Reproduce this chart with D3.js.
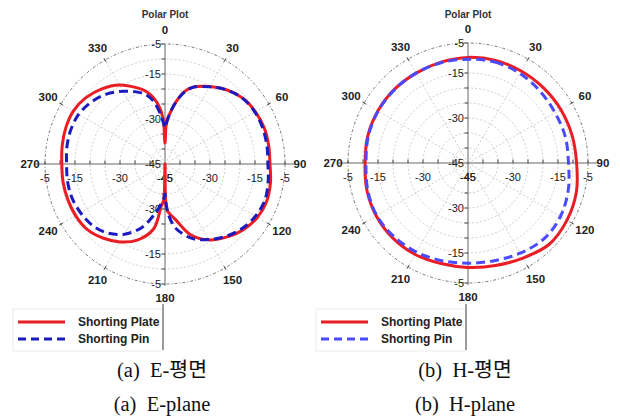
<!DOCTYPE html>
<html><head><meta charset="utf-8">
<script src="https://cdn.jsdelivr.net/npm/d3@7"></script>
<style>
html,body{margin:0;padding:0;background:#fff;}
svg{display:block;}
</style></head>
<body>
<svg id="chart" width="620" height="418"></svg>
<script>
// ---------- data ----------
const angleLabels = [0,30,60,90,120,150,180,210,240,270,300,330];
const radialTicks = [-5,-15,-30,-45];
const ringLevels = [-40,-35,-30,-25,-20,-15,-10];
const seriesNames = ["Shorting Plate","Shorting Pin"];

const eAngles = [0,2,5,10,15,20,30,40,50,60,70,80,90,100,110,120,130,140,150,160,170,175,178,180,182,185,190,200,210,220,230,240,250,260,270,280,290,300,310,320,330,340,345,350,355,358];
const ePlate  = [-38,-31,-28.5,-24,-20,-17.8,-15.2,-12.8,-11,-10.2,-9.8,-9.9,-10,-9.3,-8.9,-9.4,-10.9,-13.2,-15.8,-19.8,-26.5,-28.5,-30,-45,-33,-31,-23,-18,-15,-12.8,-11.1,-10.6,-10.5,-10.5,-10.6,-10.2,-9.8,-9.7,-10.6,-12.3,-14.6,-18,-19.8,-22.5,-26.5,-31];
const ePin    = [-33,-31.5,-28.5,-24,-20.3,-17.8,-15.3,-12.8,-11.1,-10.4,-10.3,-10.5,-10.7,-10.1,-9.6,-10.2,-11.5,-13.5,-15.9,-18.6,-23,-27,-31,-35,-33.5,-32,-29,-22.5,-18,-15,-13.3,-12.5,-12,-12,-12.2,-11.8,-11.6,-11.8,-12.9,-14.6,-17,-19.6,-21.2,-24,-28.5,-31.5];

const hAngles = [0,15,30,45,60,75,90,105,120,135,150,165,180,195,210,225,240,255,270,285,300,315,330,345];
const hPlate  = [-9.8,-9.6,-9.6,-9.5,-9.3,-9.1,-8.8,-7.6,-6.9,-6.7,-8.4,-9.6,-10.2,-10.3,-9.8,-9.6,-9.7,-10.1,-10.7,-10.4,-10.3,-10.3,-10.4,-10.2];
const hPin    = [-10.4,-10.2,-10.5,-11.1,-11.5,-11.4,-11.5,-10.4,-9.4,-9.2,-10.3,-11.3,-11.6,-11.3,-10.7,-10.2,-9.9,-10.4,-11,-10.6,-10.4,-10.4,-10.4,-10.4];

const captionsKo = ["(a)\u00a0 E-평면","(b)\u00a0 H-평면"];
const captionsEn = ["(a)\u00a0 E-plane","(b)\u00a0 H-plane"];

// ---------- drawing ----------
const svg = d3.select("#chart");
const R = 120;
const r = d3.scaleLinear().domain([-45,-5]).range([0,R]).clamp(true);
const sans = "'Liberation Sans', Arial, sans-serif";

function zip(angles, vals){ return angles.map((a,i)=>({a:a, v:vals[i]})); }

function polar(cx, cy, plate, pin, pinColor, idx){
  const g = svg.append("g").attr("transform",`translate(${cx},${cy})`);
  // rings
  g.selectAll("circle.ring").data(ringLevels).join("circle")
    .attr("r", d=>r(d)).attr("fill","none")
    .attr("stroke","#b8b8b8").attr("stroke-width",0.7).attr("stroke-dasharray","2,2");
  // spokes
  const spokes = angleLabels.filter(a=>a%90!==0);
  g.selectAll("line.spoke").data(spokes).join("line")
    .attr("x1",0).attr("y1",0)
    .attr("x2",d=>R*Math.sin(d*Math.PI/180)).attr("y2",d=>-R*Math.cos(d*Math.PI/180))
    .attr("stroke","#b8b8b8").attr("stroke-width",0.7).attr("stroke-dasharray","2,2");
  // outer ring
  g.append("circle").attr("r",R).attr("fill","none")
    .attr("stroke","#555").attr("stroke-width",0.8).attr("stroke-dasharray","3,2,1,2");
  // spoke end marks
  g.selectAll("line.mark").data(spokes).join("line")
    .attr("x1",d=>(R-2)*Math.sin(d*Math.PI/180)).attr("y1",d=>-(R-2)*Math.cos(d*Math.PI/180))
    .attr("x2",d=>(R+2)*Math.sin(d*Math.PI/180)).attr("y2",d=>-(R+2)*Math.cos(d*Math.PI/180))
    .attr("stroke","#333").attr("stroke-width",1);
  // axes
  g.append("line").attr("x1",-130).attr("x2",130).attr("y1",0).attr("y2",0).attr("stroke","#666").attr("stroke-width",1);
  g.append("line").attr("x1",0).attr("x2",0).attr("y1",-R).attr("y2",R+2).attr("stroke","#666").attr("stroke-width",1);
  const tickVals = d3.range(-40,-4,5);
  const hTicks = tickVals.flatMap(v=>[r(v),-r(v)]);
  g.selectAll("line.ht").data(hTicks).join("line")
    .attr("x1",d=>d).attr("x2",d=>d).attr("y1",0).attr("y2",-3.5).attr("stroke","#444");
  g.selectAll("line.vt").data(hTicks).join("line")
    .attr("y1",d=>d).attr("y2",d=>d).attr("x1",0).attr("x2",-3.5).attr("stroke","#444");
  // radial labels
  const lab = g.append("g").attr("font-family",sans).attr("font-size",11).attr("fill","#222");
  radialTicks.forEach(v=>{
    lab.append("text").attr("x",-4).attr("y",-r(v)).attr("text-anchor","end").attr("dy","0.35em").text(v);
    if(v!==-45) lab.append("text").attr("x",-4).attr("y",r(v)).attr("text-anchor","end").attr("dy","0.35em").text(v);
    lab.append("text").attr("x",-r(v)).attr("y",14).attr("text-anchor","middle").attr("dy","0.35em").text(v);
    lab.append("text").attr("x",r(v)).attr("y",14).attr("text-anchor","middle").attr("dy","0.35em").text(v);
  });
  // angle labels
  g.append("g").selectAll("text").data(angleLabels).join("text")
    .attr("x",d=>135*Math.sin(d*Math.PI/180)).attr("y",d=>-134*Math.cos(d*Math.PI/180))
    .attr("text-anchor","middle").attr("dy","0.35em")
    .attr("font-family",sans).attr("font-size",11.5).attr("font-weight","bold").attr("fill","#222")
    .text(d=>d);
  // title
  g.append("text").attr("x",0).attr("y",-cy+18).attr("text-anchor","middle")
    .attr("font-family",sans).attr("font-size",10).attr("font-weight","bold").attr("fill","#333")
    .text("Polar Plot");
  // curves
  const line = d3.lineRadial().angle(d=>d.a*Math.PI/180).radius(d=>r(d.v)).curve(d3.curveCatmullRomClosed.alpha(0.5));
  g.append("path").attr("d",line(plate)).attr("fill","none").attr("stroke","#ea1c24").attr("stroke-width",3);
  g.append("path").attr("d",line(pin)).attr("fill","none").attr("stroke",pinColor).attr("stroke-width",3).attr("stroke-dasharray","9,5");

  // legend
  const lx = cx-152;
  const lg = svg.append("g");
  lg.append("rect").attr("x",lx).attr("y",309).attr("width",150).attr("height",42).attr("fill","none").attr("stroke","#ececec");
  lg.append("line").attr("x1",cx-2).attr("x2",cx-2).attr("y1",304).attr("y2",350).attr("stroke","#444").attr("stroke-width",1);
  const cols = ["#ea1c24", pinColor];
  seriesNames.forEach((s,i)=>{
    const y = 322 + i*17;
    lg.append("line").attr("x1",lx+5).attr("x2",lx+52).attr("y1",y).attr("y2",y)
      .attr("stroke",cols[i]).attr("stroke-width",3).attr("stroke-dasharray", i? "8,5":null);
    lg.append("text").attr("x",lx+65).attr("y",y).attr("dy","0.35em")
      .attr("font-family",sans).attr("font-size",12).attr("font-weight","bold").attr("fill","#222").text(s);
  });
  // captions
  const ser = "'Liberation Serif','Noto Sans CJK KR',serif";
  svg.append("text").attr("x",cx-3).attr("y",377).attr("text-anchor","middle").attr("font-family",ser).attr("font-size",20.5).attr("fill","#111").text(captionsKo[idx]);
  svg.append("text").attr("x",cx-3).attr("y",411).attr("text-anchor","middle").attr("font-family",ser).attr("font-size",20.5).attr("fill","#111").text(captionsEn[idx]);
}

polar(165,164, zip(eAngles,ePlate), zip(eAngles,ePin), "#1a1ac0", 0);
polar(468,163, zip(hAngles,hPlate), zip(hAngles,hPin), "#4a4aff", 1);
</script>
</body></html>
